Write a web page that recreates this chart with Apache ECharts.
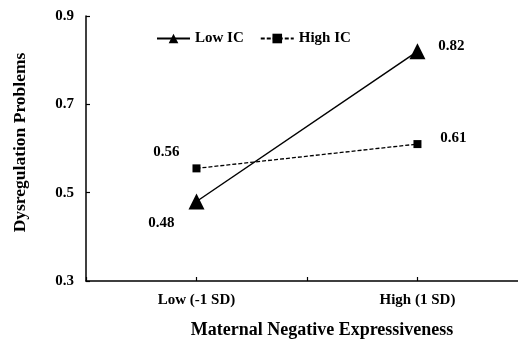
<!DOCTYPE html>
<html>
<head>
<meta charset="utf-8">
<script src="https://cdn.jsdelivr.net/npm/echarts@6/dist/echarts.min.js"></script>
<style>
  html, body { margin: 0; padding: 0; background: #fff; }
  #chart { width: 518px; height: 348px; }
</style>
</head>
<body>
<div id="chart"></div>
<script>
// positions on the x axis: 1 = Low (-1 SD), 3 = High (1 SD)
var xPos = [1, 3];
var xNames = { 1: 'Low (-1 SD)', 3: 'High (1 SD)' };
var lowIC = [0.48, 0.82];
var highIC = [0.555, 0.61];
var lowICLabels = ['0.48', '0.82'];
var highICLabels = ['0.56', '0.61'];

var font = 'Liberation Serif';
var myChart = echarts.init(document.getElementById('chart'));

function pairs(vals, labels, offsets) {
  var out = [];
  for (var i = 0; i < vals.length; i++) {
    out.push({
      value: [xPos[i], vals[i]],
      label: { show: true, formatter: labels[i], position: 'inside', offset: offsets[i] }
    });
  }
  return out;
}

var labelStyle = { fontFamily: font, fontWeight: 'bold', fontSize: 15, color: '#000' };

var option = {
  animation: false,
  textStyle: { fontFamily: font },
  grid: { left: 86, right: 0, top: 16, bottom: 67 },
  legend: {
    top: 26,
    left: 151,
    itemGap: 16,
    itemWidth: 33,
    itemHeight: 12,
    textStyle: { fontFamily: font, fontWeight: 'bold', fontSize: 15, color: '#000' },
    data: ['Low IC', 'High IC']
  },
  xAxis: {
    type: 'value',
    min: 0,
    max: 3.91,
    interval: 1,
    name: 'Maternal Negative Expressiveness',
    nameLocation: 'middle',
    nameGap: 40,
    nameTextStyle: { fontFamily: font, fontWeight: 'bold', fontSize: 18, color: '#000', padding: [0, 0, 0, 40] },
    axisLine: { lineStyle: { color: '#000', width: 1.5 } },
    axisTick: { inside: true, length: 4, lineStyle: { color: '#000', width: 1.2 } },
    axisLabel: {
      margin: 12,
      showMaxLabel: false,
      formatter: function(v) { return xNames[v] || ''; },
      fontFamily: font, fontWeight: 'bold', fontSize: 15, color: '#000'
    },
    splitLine: { show: false }
  },
  yAxis: {
    type: 'value',
    min: 0.3,
    max: 0.9,
    interval: 0.2,
    name: 'Dysregulation Problems',
    nameLocation: 'middle',
    nameGap: 57,
    nameTextStyle: { fontFamily: font, fontWeight: 'bold', fontSize: 17.5, color: '#000', padding: [0, 0, 0, 12] },
    axisLine: { show: true, lineStyle: { color: '#000', width: 1.5 } },
    axisTick: { show: true, inside: true, length: 4, lineStyle: { color: '#000', width: 1.2 } },
    axisLabel: {
      margin: 12,
      formatter: function(v) { return v.toFixed(1); },
      fontFamily: font, fontWeight: 'bold', fontSize: 15, color: '#000'
    },
    splitLine: { show: false }
  },
  series: [
    {
      name: 'Low IC',
      type: 'line',
      symbol: 'triangle',
      symbolSize: 16,
      itemStyle: { color: '#000' },
      lineStyle: { color: '#000', width: 1.5 },
      label: labelStyle,
      data: pairs(lowIC, lowICLabels, [[-35, 22], [34, -5]])
    },
    {
      name: 'High IC',
      type: 'line',
      symbol: 'rect',
      symbolSize: 8,
      itemStyle: { color: '#000' },
      lineStyle: { color: '#000', width: 1.3, type: [4, 2] },
      label: labelStyle,
      data: pairs(highIC, highICLabels, [[-30, -16], [36, -6]])
    }
  ]
};
myChart.setOption(option);
</script>
</body>
</html>
